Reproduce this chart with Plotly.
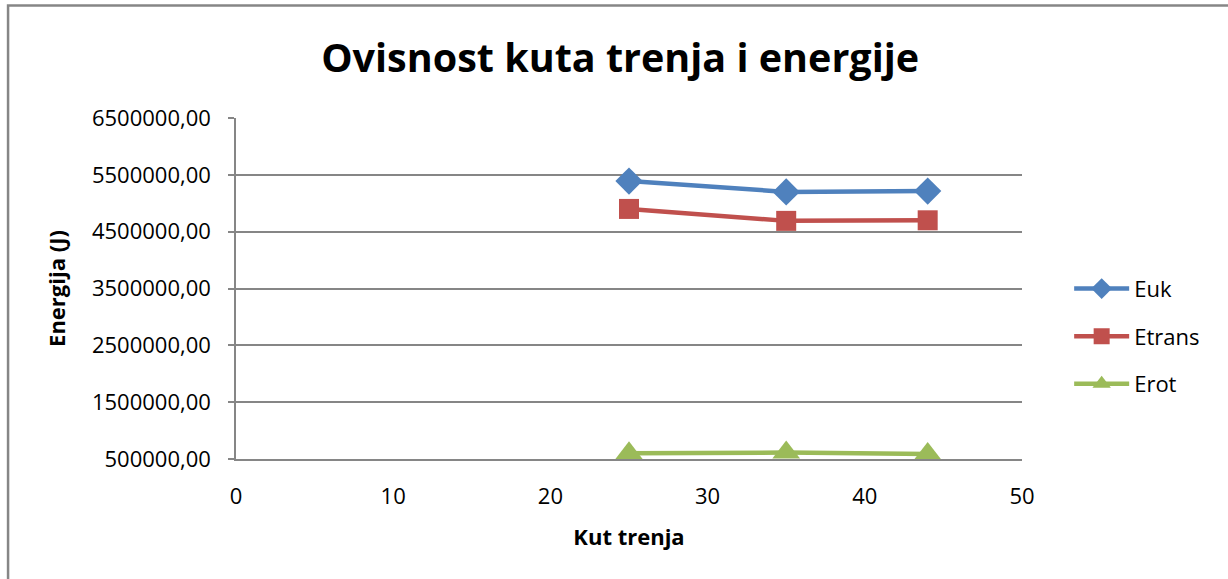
import plotly.graph_objects as go

# Friction angle (degrees) and energies (J)
kut_trenja = [25, 35, 44]
euk = [5390000, 5200000, 5215000]
etrans = [4900000, 4690000, 4700000]
erot = [600000, 614000, 590000]

y_ticks = [500000, 1500000, 2500000, 3500000, 4500000, 5500000, 6500000]
x_ticks = [0, 10, 20, 30, 40, 50]

FONT = "Open Sans"
GRID = "#868686"

series = [
    ("Euk", euk, "#4F81BD", "diamond", 21),
    ("Etrans", etrans, "#C0504D", "square", 20),
    ("Erot", erot, "#9BBB59", "triangle-up", 24),
]

fig = go.Figure()
for i, (name, vals, color, symbol, size) in enumerate(series):
    fig.add_trace(go.Scatter(
        x=kut_trenja, y=vals, name=name, mode="lines+markers",
        line=dict(color=color, width=4.5),
        marker=dict(symbol=symbol, size=size, color=color),
        legendgroup=f"g{i}",
    ))

fig.update_layout(
    width=1228, height=579,
    margin=dict(l=236, r=206, t=118, b=120),
    paper_bgcolor="white", plot_bgcolor="white",
    separators=",.",
    font=dict(family=FONT, color="black", size=22),
    title=dict(text="<b>Ovisnost kuta trenja i energije</b>",
               font=dict(family=FONT, size=39.5, color="black"),
               x=0.505, xanchor="center", y=0.90, yanchor="middle"),
    legend=dict(x=1.06, xanchor="left", y=0.36, yanchor="middle",
                font=dict(family=FONT, size=22, color="black"),
                tracegroupgap=16, itemwidth=55, bgcolor="rgba(0,0,0,0)"),
    showlegend=True,
)

fig.update_xaxes(
    range=[0, 50], tickvals=x_ticks, showgrid=False, zeroline=False,
    showline=True, linecolor=GRID, linewidth=1.5, ticks="",
    ticklabelstandoff=17, tickfont=dict(family=FONT, size=22),
    title=dict(text="<b>Kut trenja</b>", font=dict(family=FONT, size=22), standoff=20),
)
fig.update_yaxes(
    range=[500000, 6500000], tickvals=y_ticks, tickformat=".2f",
    showgrid=True, gridcolor=GRID, gridwidth=1.5, zeroline=False,
    showline=True, linecolor=GRID, linewidth=1.5,
    ticks="outside", ticklen=6, tickcolor=GRID, tickwidth=1.5,
    ticklabelstandoff=13, tickfont=dict(family=FONT, size=22),
    title=dict(text="<b>Energija (J)</b>", font=dict(family=FONT, size=22), standoff=20),
)

# Chart frame
fig.add_shape(type="rect", xref="paper", yref="paper",
              x0=-0.290, x1=1.4, y0=-0.5, y1=1.33,
              line=dict(color=GRID, width=2.5), layer="below")

fig.write_html("out.html")
